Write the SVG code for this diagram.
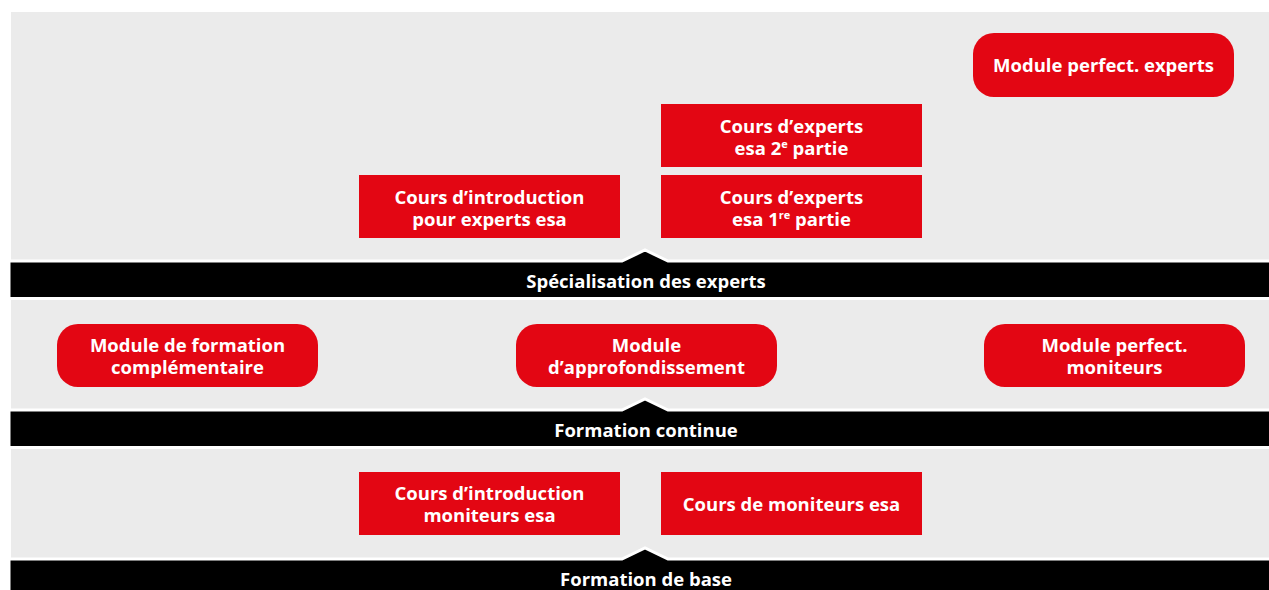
<svg xmlns="http://www.w3.org/2000/svg" width="1269" height="590" viewBox="0 0 1269 590">
<style>
.bg{fill:#ebebeb}
.box{fill:#e30613}
.bar{fill:#000;stroke:#fff;stroke-width:3;stroke-linejoin:miter}
.t{font-family:"Open Sans","Liberation Sans",sans-serif;font-weight:700;font-size:18.5px;fill:#fff;text-anchor:middle}
.sup{font-size:11px}
</style>
<rect x="0" y="0" width="1269" height="590" fill="#fff"/>
<rect class="bg" x="11" y="12" width="1258" height="578"/>
<g id="connectors">
<g id="bar-specialisation">
<path class="bar" d="M9,261 H622 L645,250 L668,261 H1271 V298.5 H9 Z"/>
<text class="t" x="646" y="287.5">Spécialisation des experts</text>
</g>
<g id="bar-continue">
<path class="bar" d="M9,410 H622 L645,399 L668,410 H1271 V447.5 H9 Z"/>
<text class="t" x="646" y="436.5">Formation continue</text>
</g>
<g id="bar-base">
<path class="bar" d="M9,559 H622 L645,548 L668,559 H1271 V595 H9 Z"/>
<text class="t" x="646" y="585.5">Formation de base</text>
</g>
</g>
<g id="module-perfect-experts">
<rect class="box" x="973" y="33" width="261" height="64" rx="21"/>
<text class="t" x="1103.5" y="72">Module perfect. experts</text>
</g>
<g id="cours-experts-2">
<rect class="box" x="661" y="104" width="261" height="63"/>
<text class="t" x="791.5" y="132.5">Cours d’experts<tspan x="791.5" dy="22">esa 2</tspan><tspan class="sup" dy="-7">e</tspan><tspan dy="7"> partie</tspan></text>
</g>
<g id="cours-experts-1">
<rect class="box" x="661" y="175" width="261" height="63"/>
<text class="t" x="791.5" y="203.5">Cours d’experts<tspan x="791.5" dy="22">esa 1</tspan><tspan class="sup" dy="-7">re</tspan><tspan dy="7"> partie</tspan></text>
</g>
<g id="cours-intro-experts">
<rect class="box" x="359" y="175" width="261" height="63"/>
<text class="t" x="489.5" y="203.5">Cours d’introduction<tspan x="489.5" dy="22">pour experts esa</tspan></text>
</g>
<g id="module-formation-complementaire">
<rect class="box" x="57" y="324" width="261" height="63" rx="21"/>
<text class="t" x="187.5" y="351.5">Module de formation<tspan x="187.5" dy="22">complémentaire</tspan></text>
</g>
<g id="module-approfondissement">
<rect class="box" x="516" y="324" width="261" height="63" rx="21"/>
<text class="t" x="646.5" y="351.5">Module<tspan x="646.5" dy="22">d’approfondissement</tspan></text>
</g>
<g id="module-perfect-moniteurs">
<rect class="box" x="984" y="324" width="261" height="63" rx="21"/>
<text class="t" x="1114.5" y="351.5">Module perfect.<tspan x="1114.5" dy="22">moniteurs</tspan></text>
</g>
<g id="cours-intro-moniteurs">
<rect class="box" x="359" y="472" width="261" height="63"/>
<text class="t" x="489.5" y="499.5">Cours d’introduction<tspan x="489.5" dy="22">moniteurs esa</tspan></text>
</g>
<g id="cours-moniteurs">
<rect class="box" x="661" y="472" width="261" height="63"/>
<text class="t" x="791.5" y="510.5">Cours de moniteurs esa</text>
</g>
</svg>
